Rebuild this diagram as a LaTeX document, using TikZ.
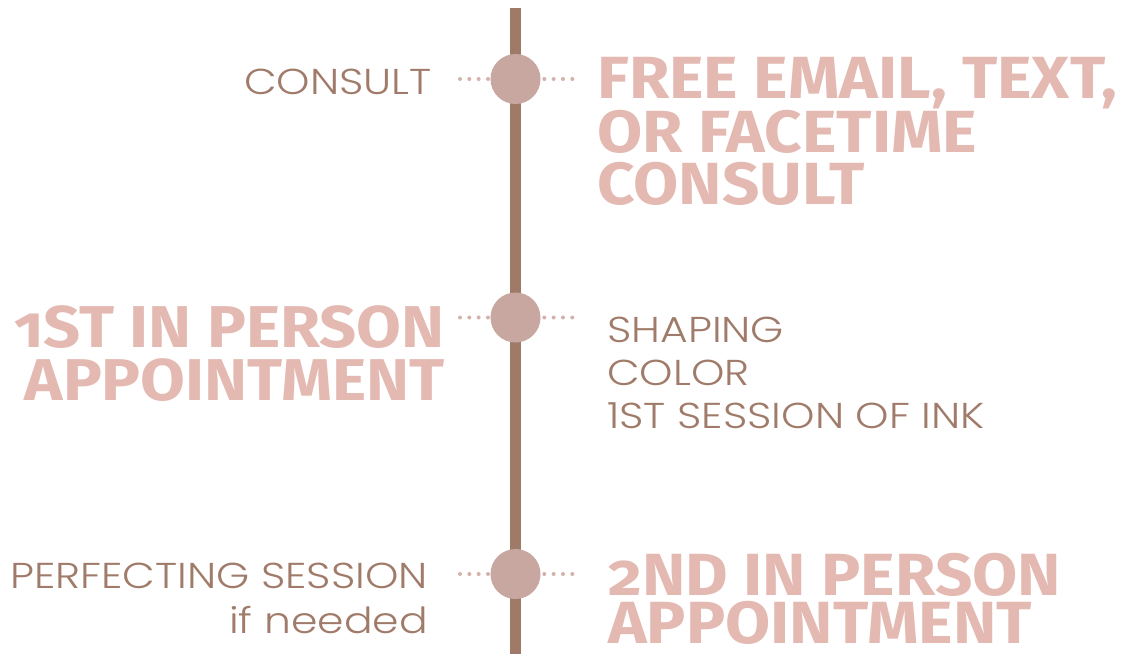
\documentclass[tikz,border=0pt]{standalone}
\usepackage{fontspec}
\usetikzlibrary{positioning,backgrounds}
\newfontfamily\thinfont[FakeStretch=1.18]{Poppins Light}
\newfontfamily\heavyfont[Numbers=OldStyle, FakeStretch=1.1]{Fira Sans Bold}
\definecolor{stem}{HTML}{A07A69}
\definecolor{knob}{HTML}{C8A7A1}
\definecolor{dotc}{HTML}{D3B2AC}
\definecolor{blush}{HTML}{E3B9B1}
\definecolor{mocha}{HTML}{A07B6A}
\begin{document}
\begin{tikzpicture}[x=1pt, y=-1pt]
\tikzstyle{knb}=[circle, fill=knob, minimum size=50pt, inner sep=0pt]
\tikzstyle{thin}=[text=mocha, inner sep=0pt, font=\thinfont\fontsize{36}{43}\selectfont]
\tikzstyle{heavy}=[text=blush, inner sep=0pt]
\tikzstyle{dotted line}=[dotc, line width=4pt, line cap=round, dash pattern=on 0pt off 9.33pt]
\useasboundingbox (0,0) rectangle (1128,654);
\coordinate (top) at (515.5,8);
\coordinate (bot) at (515.5,654);
\foreach \i/\y in {1/79,2/317.5,3/574}{
  \node[knb] (m\i) at (515.5,\y) {};
  \coordinate (la\i) at (460,\y);
  \coordinate (lb\i) at (488,\y);
  \coordinate (ra\i) at (544.3,\y);
  \coordinate (rb\i) at (572.3,\y);
  \draw[dotted line] (la\i) -- (lb\i);
  \draw[dotted line] (ra\i) -- (rb\i);
}
\begin{scope}[on background layer]
\draw[stem, line width=10.5pt] (top) -- (bot);
\end{scope}
% labels
\node[thin, anchor=north east] (consult) at (432,69) {CONSULT};
\node[heavy, anchor=north west, align=left, font=\heavyfont\fontsize{59.5}{52}\selectfont] (free) at (597,57)
  {FREE EMAIL, TEXT,\\OR FACETIME\\CONSULT};
\node[heavy, anchor=north east, align=right, font=\heavyfont\fontsize{59}{53}\selectfont] (first) at (445,305)
  {1ST IN PERSON\\APPOINTMENT};
\node[thin, anchor=north west, align=left] (shaping) at (607,317)
  {SHAPING\\COLOR\\1ST SESSION OF INK};
\node[thin, anchor=north east, align=right, font=\thinfont\fontsize{36}{45}\selectfont] (perfect) at (428,563)
  {PERFECTING SESSION\\if needed};
\node[heavy, anchor=north west, align=left, font=\heavyfont\fontsize{59.5}{48}\selectfont] (second) at (608,553)
  {2ND IN PERSON\\APPOINTMENT};
\end{tikzpicture}
\end{document}
